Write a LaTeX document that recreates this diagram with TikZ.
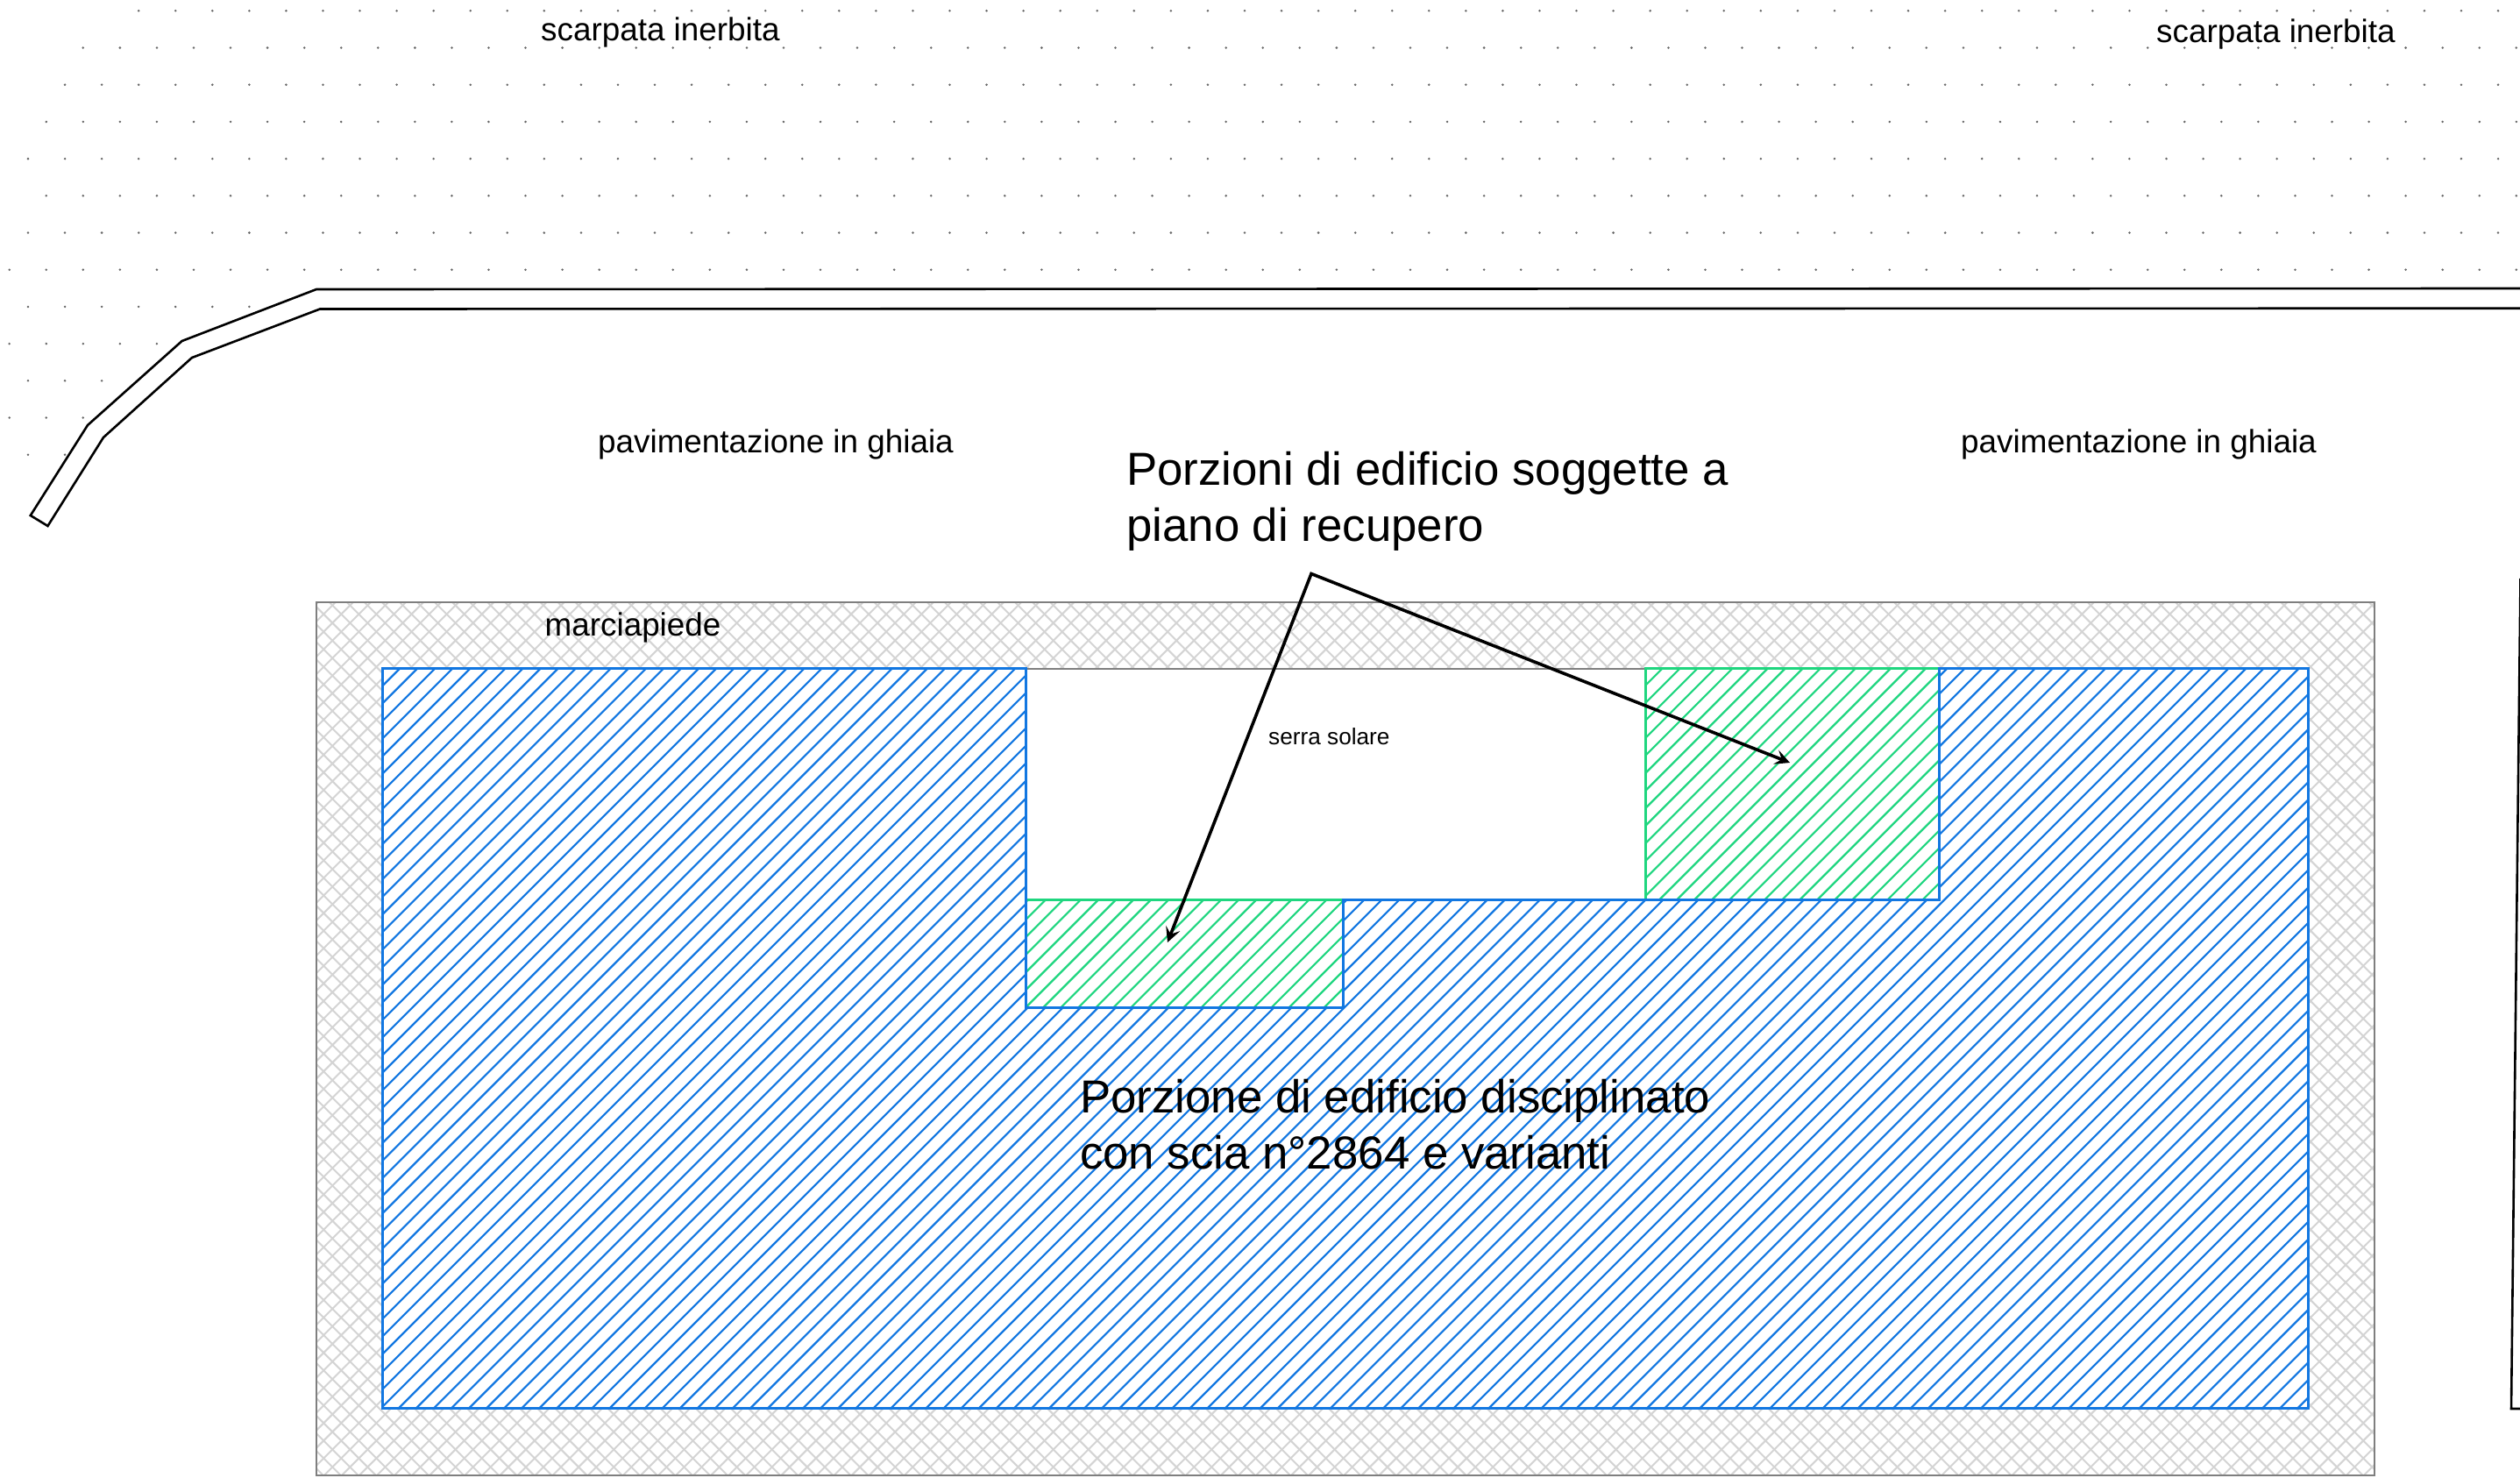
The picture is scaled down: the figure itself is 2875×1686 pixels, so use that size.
\documentclass[tikz,border=0pt]{standalone}
\usepackage{fontspec}
\setmainfont{Liberation Sans}
\usetikzlibrary{arrows.meta}
\definecolor{bluec}{HTML}{1277E1}
\definecolor{greenc}{HTML}{1FD67F}
\definecolor{gridc}{HTML}{D4D4D4}
\definecolor{framec}{HTML}{7F7F7F}
\definecolor{dotc}{HTML}{666666}
\tikzset{
  label small/.style={anchor=base west,inner sep=0pt,font=\fontsize{36.85}{42}\selectfont},
  label tiny/.style={anchor=base west,inner sep=0pt,font=\fontsize{26.2}{30}\selectfont},
  label big/.style={anchor=base west,inner sep=0pt,align=left,font=\fontsize{52.8}{63.7}\selectfont},
  wall/.style={draw=black,line width=2.6pt,line join=miter},
  leader/.style={draw=black,line width=3.6pt,line join=miter,
    {Stealth[length=17pt,width=17pt,inset=7pt]}-{Stealth[length=17pt,width=17pt,inset=7pt]}},
  bluehatch/.style={draw=bluec,line width=2.2pt},
  greenhatch/.style={draw=greenc,line width=2.2pt},
  gridhatch/.style={draw=gridc,line width=2pt},
  blueedge/.style={draw=bluec,line width=3pt,line join=miter,line cap=rect},
  greenedge/.style={draw=greenc,line width=3pt,line join=miter},
  frameedge/.style={draw=framec,line width=2pt}
}
\begin{document}
\begin{tikzpicture}[x=1pt,y=-1pt]
\useasboundingbox (0,0) rectangle (2875,1686);
\fill[white] (0,0) rectangle (2875,1686);
% grass dots
\foreach \r/\o/\a/\b in {0/32/3/68,1/10.7/2/68,2/32/1/68,3/10.7/1/68,4/32/0/68,5/10.7/1/68,6/32/0/68,7/10.7/0/68,8/32/0/6,9/10.7/0/4,10/32/0/2,11/10.7/0/2,12/32/0/1}{
  \foreach \k in {\a,...,\b}{
    \fill[dotc] ({\o+42.06*\k},{12.3+42.2*\r}) circle (1.4pt);
  }
}
% kerb
\coordinate (k1) at (2880,329);
\coordinate (k2) at (361,330);
\coordinate (k3) at (207.6,389);
\coordinate (k4) at (100,485);
\coordinate (k5) at (34.8,588);
\coordinate (k6) at (54.5,600);
\coordinate (k7) at (118,499);
\coordinate (k8) at (219,408);
\coordinate (k9) at (365,352.5);
\coordinate (k10) at (2880,351.7);
\draw[wall] (k1) -- (k2) -- (k3) -- (k4) -- (k5) -- (k6) -- (k7) -- (k8) -- (k9) -- (k10);
% right wall
\coordinate (r1) at (2875.5,660);
\coordinate (r2) at (2865,1607);
\coordinate (r3) at (2880,1607);
\draw[wall] (r1) -- (r2) -- (r3);
% pavement
\coordinate (fa) at (361,686.5);
\coordinate (fb) at (2708.5,1682.5);
\begin{scope}
  \clip (fa) rectangle (fb);
  \foreach \k in {0,...,170}{
    \draw[gridhatch] ({1029.7+20.06*\k},0) -- ({1029.7+20.06*\k-1700},1700);
    \draw[gridhatch] ({-1314.3+20.06*\k},0) -- ({-1314.3+20.06*\k+1700},1700);
  }
\end{scope}
\draw[frameedge] (fa) rectangle (fb);
% building corners
\coordinate (b1) at (436,762.5);
\coordinate (b2) at (1170,762.5);
\coordinate (b3) at (1170,1149.5);
\coordinate (b4) at (1532,1149.5);
\coordinate (b5) at (1532,1026.5);
\coordinate (b6) at (2212,1026.5);
\coordinate (b7) at (2212,762.5);
\coordinate (b8) at (2633,762.5);
\coordinate (b9) at (2633,1606.5);
\coordinate (b10) at (436,1606.5);
\coordinate (g1) at (1170,1026.5);
\coordinate (g2) at (1877,1026.5);
\coordinate (g3) at (1877,762.5);
\fill[white] (b1) -- (b8) -- (b9) -- (b10) -- cycle;
% blue hatching
\begin{scope}
  \clip (b1) -- (b2) -- (b3) -- (b4) -- (b5) -- (b6) -- (b7) -- (b8) -- (b9) -- (b10) -- cycle;
  \foreach \k in {-1,...,152}{
    \draw[bluehatch] ({1218.7+20.06*\k},0) -- ({1218.7+20.06*\k-1700},1700);
  }
\end{scope}
% green hatching
\begin{scope}
  \clip (g1) -- (b5) -- (b4) -- (b3) -- cycle;
  \foreach \k in {-1,...,26}{
    \draw[greenhatch] ({2199.3+20.03*\k},0) -- ({2199.3+20.03*\k-1700},1700);
  }
\end{scope}
\begin{scope}
  \clip (g3) -- (b7) -- (b6) -- (g2) -- cycle;
  \foreach \k in {-1,...,32}{
    \draw[greenhatch] ({2639+20.03*\k},0) -- ({2639+20.03*\k-1700},1700);
  }
\end{scope}
% edges
\draw[frameedge] (b2) -- (g3);
\draw[greenedge] (b6) -- (b7) -- (g3) -- (g2);
\draw[greenedge] (g1) -- (b5);
\draw[blueedge] (b2) -- (b1) -- (b10) -- (b9) -- (b8) -- (b7) -- (b6);
\draw[blueedge] (b2) -- (b3) -- (b4) -- (b5);
\draw[blueedge] (b5) -- (b6);
% labels
\node[label small] (n1) at (617,46.5) {scarpata inerbita};
\node[label small] (n2) at (2460,48.5) {scarpata inerbita};
\node[label small] (n3) at (682,516.5) {pavimentazione in ghiaia};
\node[label small] (n4) at (2237,516.5) {pavimentazione in ghiaia};
\node[label small] (n5) at (621.5,725.5) {marciapiede};
\node[label tiny] (n6) at (1447,849.5) {serra solare};
\node[label big] (n7) at (1285,617.5) {Porzioni di edificio soggette a\\piano di recupero};
\node[label big] (n8) at (1232,1333) {Porzione di edificio disciplinato\\con scia n°2864 e varianti};
% leaders
\coordinate (apex) at (1496,654.5);
\coordinate (tipa) at (1332,1075);
\coordinate (tipb) at (2042,870);
\draw[leader] (tipa) -- (apex) -- (tipb);
\end{tikzpicture}
\end{document}
